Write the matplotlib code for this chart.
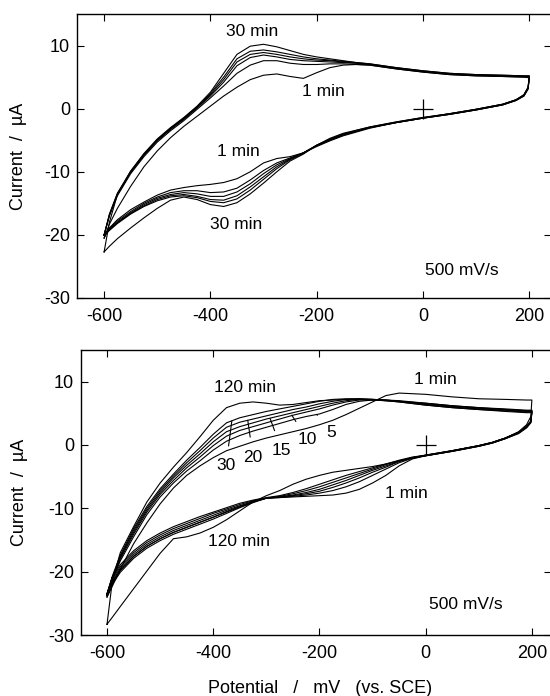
import matplotlib
matplotlib.use("Agg")
import matplotlib.pyplot as plt

plt.rcParams['font.family'] = ['Liberation Sans', 'DejaVu Sans']
plt.rcParams['axes.unicode_minus'] = False

# ---------------------------------------------------------
# Data
# ---------------------------------------------------------
# upper panel : 1 - 30 min
top_times = [1, 5, 10, 15, 20, 30]

top_E_fwd = [-600, -590, -575, -550, -525, -500, -475, -450, -425, -400,
             -375, -350, -325, -300, -275, -250, -225, -200, -175, -150,
             -125, -100, -50, 0, 50, 100, 150, 190, 200]

top_I_fwd = [
    [-20.5, -18.3, -15.8, -12.3, -9.2, -6.7, -4.6, -2.8, -1.2, 0.4, 2.0, 3.4, 4.6, 5.3, 5.5, 5.1, 4.8, 5.7, 6.5, 6.9, 7.0, 6.9, 6.3, 5.8, 5.4, 5.2, 5.1, 5.0, 4.9],
    [-20.0, -17.0, -13.8, -10.3, -7.6, -5.3, -3.5, -1.9, -0.1, 1.7, 3.6, 5.6, 6.9, 7.6, 7.6, 7.2, 7.0, 7.0, 7.1, 7.1, 7.0, 6.9, 6.3, 5.8, 5.4, 5.2, 5.1, 5.0, 5.0],
    [-20.0, -16.9, -13.6, -10.1, -7.4, -5.1, -3.3, -1.7, 0.1, 2.0, 4.2, 6.8, 8.1, 8.5, 8.2, 7.8, 7.6, 7.5, 7.4, 7.3, 7.2, 7.0, 6.4, 5.9, 5.5, 5.3, 5.2, 5.1, 5.1],
    [-20.0, -16.8, -13.5, -10.0, -7.3, -5.0, -3.2, -1.6, 0.2, 2.2, 4.6, 7.4, 8.6, 8.9, 8.6, 8.2, 7.9, 7.7, 7.6, 7.4, 7.2, 7.0, 6.4, 5.9, 5.5, 5.3, 5.2, 5.1, 5.1],
    [-20.1, -16.7, -13.4, -9.9, -7.2, -4.9, -3.1, -1.5, 0.3, 2.4, 5.0, 7.9, 9.1, 9.3, 9.0, 8.6, 8.2, 7.9, 7.7, 7.5, 7.3, 7.1, 6.5, 6.0, 5.6, 5.4, 5.3, 5.2, 5.2],
    [-22.7, -18.0, -13.6, -9.9, -7.1, -4.8, -3.0, -1.4, 0.4, 2.6, 5.6, 8.6, 9.9, 10.2, 9.8, 9.2, 8.6, 8.2, 7.9, 7.6, 7.3, 7.1, 6.5, 6.0, 5.6, 5.4, 5.3, 5.2, 5.2],
]

top_E_rev = [200, 198, 190, 175, 150, 100, 50, 0, -50, -100, -150, -175,
             -200, -225, -250, -275, -300, -325, -350, -375, -400, -425,
             -450, -475, -500, -525, -550, -575, -590, -600]

top_I_rev = [
    [4.9, 3.1, 2.0, 1.3, 0.6, -0.2, -0.9, -1.5, -2.2, -3.1, -4.3, -5.1, -6.0, -7.0, -7.6, -7.9, -8.6, -10.0, -11.1, -11.7, -12.0, -12.2, -12.5, -12.9, -13.7, -14.8, -16.0, -17.6, -18.9, -20.5],
    [5.0, 3.2, 2.0, 1.3, 0.6, -0.2, -0.9, -1.5, -2.2, -3.0, -4.2, -5.0, -5.9, -7.0, -7.8, -8.6, -9.8, -11.3, -12.6, -13.2, -13.3, -13.0, -13.0, -13.3, -14.0, -15.0, -16.3, -17.8, -19.0, -20.0],
    [5.1, 3.3, 2.1, 1.3, 0.6, -0.2, -0.9, -1.5, -2.2, -3.0, -4.1, -4.9, -5.8, -7.0, -7.9, -8.9, -10.3, -11.9, -13.2, -13.9, -13.9, -13.5, -13.3, -13.6, -14.2, -15.2, -16.5, -18.0, -19.1, -20.0],
    [5.1, 3.3, 2.1, 1.4, 0.7, -0.1, -0.8, -1.5, -2.2, -3.0, -4.1, -4.9, -5.8, -7.0, -8.0, -9.2, -10.8, -12.4, -13.8, -14.5, -14.4, -13.9, -13.6, -13.8, -14.4, -15.4, -16.6, -18.1, -19.2, -20.0],
    [5.2, 3.4, 2.2, 1.4, 0.7, -0.1, -0.8, -1.4, -2.1, -2.9, -4.0, -4.8, -5.8, -7.1, -8.1, -9.5, -11.2, -12.9, -14.3, -14.9, -14.7, -14.1, -13.8, -14.0, -14.6, -15.5, -16.7, -18.2, -19.3, -20.1],
    [5.2, 3.4, 2.2, 1.4, 0.7, -0.1, -0.8, -1.4, -2.1, -2.9, -3.9, -4.7, -5.8, -7.2, -8.3, -10.0, -11.8, -13.5, -14.9, -15.5, -15.2, -14.4, -14.0, -14.5, -15.8, -17.3, -18.9, -20.6, -21.8, -22.7],
]

# lower panel : 1 - 120 min
bot_times = [1, 5, 10, 15, 20, 30, 120]

bot_E_fwd = [-600, -590, -575, -550, -525, -500, -475, -450, -425, -400,
             -375, -350, -325, -300, -275, -250, -225, -200, -175, -150,
             -125, -100, -75, -50, 0, 50, 100, 150, 190, 200]

bot_I_fwd = [
    [-24.0, -22.3, -19.6, -15.6, -12.3, -9.3, -6.8, -4.8, -3.3, -2.0, -0.9, -0.2, 0.5, 1.1, 1.6, 2.1, 2.6, 3.2, 3.9, 4.8, 5.8, 6.8, 7.8, 8.2, 8.0, 7.6, 7.3, 7.2, 7.1, 7.1],
    [-23.8, -21.3, -18.3, -14.5, -11.0, -8.2, -6.0, -4.1, -2.5, -0.8, 0.6, 1.5, 2.2, 2.8, 3.4, 4.0, 4.5, 4.9, 5.6, 6.4, 6.9, 7.1, 7.0, 6.8, 6.3, 5.9, 5.6, 5.3, 5.1, 5.1],
    [-23.7, -21.1, -18.0, -14.1, -10.6, -7.8, -5.6, -3.6, -1.9, -0.1, 1.4, 2.3, 2.9, 3.5, 4.1, 4.7, 5.2, 5.7, 6.3, 6.8, 7.1, 7.1, 7.0, 6.8, 6.3, 5.9, 5.6, 5.4, 5.2, 5.2],
    [-23.6, -21.0, -17.8, -13.8, -10.3, -7.5, -5.2, -3.2, -1.4, 0.5, 2.1, 2.9, 3.5, 4.1, 4.6, 5.1, 5.6, 6.1, 6.6, 7.0, 7.2, 7.2, 7.1, 6.9, 6.4, 6.0, 5.7, 5.5, 5.3, 5.3],
    [-23.5, -20.9, -17.6, -13.5, -10.0, -7.2, -4.9, -2.8, -0.9, 1.1, 2.8, 3.6, 4.1, 4.6, 5.1, 5.6, 6.0, 6.5, 6.9, 7.2, 7.3, 7.2, 7.1, 6.9, 6.5, 6.1, 5.8, 5.6, 5.4, 5.4],
    [-23.5, -20.7, -17.4, -13.2, -9.7, -6.9, -4.6, -2.4, -0.4, 1.7, 3.5, 4.3, 4.8, 5.3, 5.7, 6.1, 6.5, 6.9, 7.2, 7.3, 7.3, 7.2, 7.1, 7.0, 6.6, 6.2, 5.9, 5.7, 5.5, 5.5],
    [-28.3, -21.5, -17.0, -12.9, -9.0, -6.0, -3.5, -1.2, 1.3, 3.9, 5.9, 6.6, 6.8, 6.6, 6.3, 6.4, 6.7, 7.0, 7.1, 7.2, 7.2, 7.1, 7.0, 6.9, 6.6, 6.2, 5.9, 5.6, 5.4, 5.4],
]

bot_E_rev = [200, 198, 190, 175, 150, 125, 100, 50, 0, -25, -50, -75, -100,
             -125, -150, -175, -200, -225, -250, -275, -300, -325, -350,
             -375, -400, -425, -450, -475, -500, -525, -550, -575, -590, -600]

bot_I_rev = [
    [7.1, 4.5, 3.2, 2.1, 1.1, 0.4, -0.1, -0.9, -1.7, -2.2, -3.3, -4.8, -6.0, -7.0, -7.6, -7.9, -8.0, -8.1, -8.2, -8.3, -8.4, -9.0, -9.8, -10.6, -11.4, -12.2, -13.0, -13.8, -14.8, -16.0, -17.6, -19.8, -21.8, -24.0],
    [5.1, 3.5, 2.7, 1.8, 1.0, 0.3, -0.2, -1.0, -1.7, -2.1, -2.8, -3.8, -4.8, -5.8, -6.6, -7.2, -7.6, -7.9, -8.1, -8.3, -8.4, -9.1, -9.9, -10.8, -11.7, -12.5, -13.3, -14.1, -15.1, -16.3, -17.9, -20.1, -22.0, -23.8],
    [5.2, 3.6, 2.8, 1.9, 1.0, 0.3, -0.2, -1.0, -1.7, -2.0, -2.6, -3.5, -4.3, -5.2, -6.0, -6.7, -7.3, -7.7, -8.0, -8.2, -8.4, -9.0, -9.7, -10.5, -11.4, -12.2, -13.0, -13.8, -14.8, -16.0, -17.6, -19.8, -21.7, -23.7],
    [5.3, 3.6, 2.8, 1.9, 1.0, 0.3, -0.2, -1.0, -1.7, -2.0, -2.6, -3.3, -4.0, -4.8, -5.6, -6.3, -7.0, -7.5, -7.9, -8.2, -8.4, -8.9, -9.6, -10.3, -11.1, -11.9, -12.7, -13.5, -14.5, -15.7, -17.3, -19.5, -21.5, -23.6],
    [5.4, 3.7, 2.9, 2.0, 1.1, 0.4, -0.1, -0.9, -1.6, -2.0, -2.5, -3.1, -3.8, -4.5, -5.2, -5.9, -6.6, -7.2, -7.7, -8.1, -8.4, -8.8, -9.4, -10.1, -10.8, -11.6, -12.4, -13.2, -14.2, -15.4, -17.0, -19.2, -21.2, -23.5],
    [5.5, 3.8, 3.0, 2.0, 1.1, 0.4, -0.1, -0.9, -1.6, -1.9, -2.4, -3.0, -3.6, -4.2, -4.8, -5.5, -6.2, -6.9, -7.5, -8.0, -8.3, -8.7, -9.2, -9.9, -10.6, -11.3, -12.1, -12.9, -13.9, -15.1, -16.7, -18.9, -20.9, -23.5],
    [5.4, 3.7, 2.9, 2.0, 1.1, 0.4, -0.1, -0.9, -1.6, -2.0, -2.5, -3.0, -3.4, -3.7, -4.0, -4.3, -4.8, -5.4, -6.2, -7.2, -8.0, -9.0, -10.4, -11.8, -13.0, -13.9, -14.5, -14.8, -17.1, -19.9, -22.7, -25.5, -27.2, -28.3],
]

# leader labels in the lower panel: (label, point on curve, label position)
bot_leaders = [
    ("30", (-365, 3.8), (-376, -3.3)),
    ("20", (-335, 3.9), (-325, -1.9)),
    ("15", (-293, 4.2), (-271, -0.8)),
    ("10", (-252, 4.7), (-222, 0.8)),
    ("5", (-205, 4.8), (-178, 2.0)),
]

xticks = [-600, -400, -200, 0, 200]
yticks = [-30, -20, -10, 0, 10]

# ---------------------------------------------------------
# Plot
# ---------------------------------------------------------
fig = plt.figure(figsize=(5.5, 6.96), dpi=100)
ax1 = fig.add_axes([77/550, 1 - 298/696, 474/550, 284/696])
ax2 = fig.add_axes([81/550, 1 - 635/696, 470/550, 285/696])


def draw_cv(ax, E_fwd, I_fwd, E_rev, I_rev):
    for i_f, i_r in zip(I_fwd, I_rev):
        ax.plot(E_fwd + E_rev, i_f + i_r, color='k', lw=0.8)
    ax.plot([0], [0], marker='+', ms=14, mew=0.9, color='k')


def style(ax, xlim):
    ax.set_xlim(*xlim)
    ax.set_ylim(-30, 15)
    ax.set_xticks(xticks)
    ax.set_yticks(yticks)
    ax.tick_params(direction='in', top=True, right=True, length=5,
                   width=0.8, labelsize=13)
    ax.tick_params(axis='x', pad=7)
    ax.tick_params(axis='y', pad=5)
    for sp in ax.spines.values():
        sp.set_linewidth(1.0)


draw_cv(ax1, top_E_fwd, top_I_fwd, top_E_rev, top_I_rev)
style(ax1, (-651, 241))
ax1.set_ylabel("Current  /  µA", fontsize=13)
ax1.yaxis.set_label_coords(-0.105, 0.5)

txt = dict(fontsize=12.5, ha='center', va='center')
ax1.text(-321, 12.2, "30 min", **txt)
ax1.text(-187, 2.7, "1 min", **txt)
ax1.text(-347, -6.8, "1 min", **txt)
ax1.text(-351, -18.3, "30 min", **txt)
ax1.text(74, -25.6, "500 mV/s", **txt)

draw_cv(ax2, bot_E_fwd, bot_I_fwd, bot_E_rev, bot_I_rev)
style(ax2, (-649, 236))
ax2.set_ylabel("Current  /  µA", fontsize=13)
ax2.yaxis.set_label_coords(-0.113, 0.5)
ax2.set_xlabel("Potential   /   mV   (vs. SCE)", fontsize=13)
ax2.xaxis.set_label_coords(0.509, -0.158)

ax2.text(-340, 9.0, "120 min", **txt)
ax2.text(19, 10.4, "1 min", **txt)
ax2.text(-37, -7.7, "1 min", **txt)
ax2.text(-352, -15.3, "120 min", **txt)
ax2.text(76, -25.2, "500 mV/s", **txt)

for lab, xy, xyt in bot_leaders:
    ax2.annotate(lab, xy=xy, xytext=xyt, fontsize=12.5,
                 ha='center', va='center',
                 arrowprops=dict(arrowstyle='-', lw=0.8, color='k',
                                 shrinkA=7, shrinkB=0))

fig.savefig("out.png", dpi=100)
